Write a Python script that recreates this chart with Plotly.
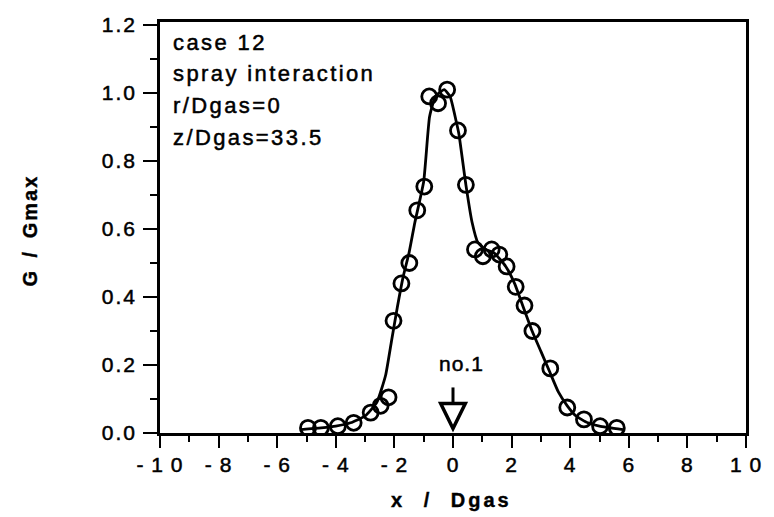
import plotly.graph_objects as go

# Measured profile: normalised mass flux vs. radial position
x_meas = [-4.95, -4.51, -3.93, -3.39, -2.81, -2.47, -2.20, -2.03, -1.76, -1.49,
          -1.22, -0.98, -0.81, -0.51, -0.20, 0.17, 0.44, 0.75, 1.02, 1.32,
          1.58, 1.83, 2.14, 2.44, 2.71, 3.32, 3.90, 4.47, 5.02, 5.59]
g_meas = [0.015, 0.015, 0.02, 0.03, 0.06, 0.08, 0.105, 0.33, 0.44, 0.50,
          0.655, 0.725, 0.99, 0.97, 1.01, 0.89, 0.73, 0.54, 0.52, 0.54,
          0.525, 0.49, 0.43, 0.375, 0.30, 0.19, 0.075, 0.04, 0.02, 0.015]

# Smoothed fit through the profile
x_fit = [-5.2, -4.5, -4.0, -3.5, -3.0, -2.6, -2.3, -2.1, -1.9, -1.7, -1.5, -1.3,
         -1.0, -0.8, -0.6, -0.3, -0.1, 0.1, 0.2, 0.44, 0.65, 0.85, 1.1, 1.4,
         1.8, 2.1, 2.4, 2.7, 3.0, 3.3, 3.6, 3.9, 4.2, 4.6, 5.0, 5.8]
g_fit = [0.01, 0.015, 0.02, 0.03, 0.05, 0.09, 0.17, 0.27, 0.37, 0.46, 0.53, 0.62,
         0.74, 0.93, 0.99, 1.01, 0.99, 0.92, 0.88, 0.73, 0.62, 0.56, 0.54, 0.53,
         0.49, 0.44, 0.37, 0.30, 0.24, 0.18, 0.12, 0.08, 0.05, 0.03, 0.02, 0.01]

x_ticks = [-10, -8, -6, -4, -2, 0, 2, 4, 6, 8, 10]
x_tick_text = ["- 1 0", "- 8", "- 6", "- 4", "- 2", "0", "2", "4", "6", "8", "1 0"]
y_ticks = [0.0, 0.2, 0.4, 0.6, 0.8, 1.0, 1.2]
y_tick_text = ["0.0", "0.2", "0.4", "0.6", "0.8", "1.0", "1.2"]

info_lines = ["case 12", "spray interaction", "r/Dgas=0", "z/Dgas=33.5"]

# Probe marker "no.1"
probe_x = 0.0
probe_label = "no.1"
probe_label_y = 0.205
probe_top = 0.134
probe_head_base = 0.087
probe_tip = 0.013
probe_head_half = 0.42

FONT = "Liberation Sans"


def spaced(text, px, word=0, stroke=0.5):
    return (f'<span style="letter-spacing:{px}px;word-spacing:{word}px;'
            f'stroke:black;stroke-width:{stroke}px">{text}</span>')


fig = go.Figure()

fig.add_trace(go.Scatter(
    x=x_fit, y=g_fit, mode="lines",
    line=dict(color="black", width=2.8, shape="spline", smoothing=0.45),
    hoverinfo="skip", showlegend=False,
))
fig.add_trace(go.Scatter(
    x=x_meas, y=g_meas, mode="markers",
    marker=dict(symbol="circle-open", size=15, color="black",
                line=dict(width=2.8, color="black")),
    showlegend=False,
))

axis_common = dict(
    showgrid=False, zeroline=False, showline=True, linecolor="black",
    linewidth=2.6, mirror=True, ticks="outside", tickcolor="black",
    tickwidth=2.4,
)

fig.update_xaxes(
    range=[-10, 10], tickvals=x_ticks,
    ticktext=[spaced(t, 1) for t in x_tick_text],
    ticklen=12, ticklabelstandoff=-1,
    tickfont=dict(family=FONT, size=21, color="black"),
    minor=dict(dtick=1, ticklen=6, tickwidth=2.4, tickcolor="black",
               ticks="outside"),
    **axis_common,
)
fig.update_yaxes(
    range=[0, 1.209], tickvals=y_ticks,
    ticktext=[spaced(t, 2) for t in y_tick_text],
    ticklen=14, ticklabelstandoff=2,
    tickfont=dict(family=FONT, size=21, color="black"),
    minor=dict(dtick=0.1, ticklen=7, tickwidth=2.4, tickcolor="black",
               ticks="outside"),
    **axis_common,
)

annotations = []
line_offsets = [20, 51, 83, 115]
for text, off in zip(info_lines, line_offsets):
    annotations.append(dict(
        xref="paper", yref="paper", x=0, y=1, xanchor="left", yanchor="middle",
        xshift=11, yshift=-off, showarrow=False,
        text=spaced(text, 2.4), font=dict(family=FONT, size=22, color="black"),
    ))

# axis titles
annotations.append(dict(
    xref="paper", yref="paper", x=0.5, y=0, xanchor="center", yanchor="middle",
    xshift=-2, yshift=-67, showarrow=False,
    text="<b>" + spaced("x / Dgas", 3, 10, 0.4) + "</b>",
    font=dict(family=FONT, size=20, color="black"),
))
annotations.append(dict(
    xref="paper", yref="paper", x=0, y=0.5, xanchor="center", yanchor="middle",
    xshift=-131, yshift=-3, showarrow=False, textangle=-90,
    text="<b>" + spaced("G / Gmax", 2, 4, 0.4) + "</b>",
    font=dict(family=FONT, size=20, color="black"),
))

# probe label
annotations.append(dict(
    xref="x", yref="y", x=probe_x, y=probe_label_y, xanchor="center",
    yanchor="middle", xshift=8, showarrow=False, text=spaced(probe_label, 1),
    font=dict(family=FONT, size=21, color="black"),
))

shapes = [
    dict(type="line", xref="x", yref="y", x0=probe_x, x1=probe_x,
         y0=probe_top, y1=probe_head_base, line=dict(color="black", width=3)),
    dict(type="path", xref="x", yref="y",
         path=(f"M {probe_x - probe_head_half},{probe_head_base} "
               f"L {probe_x + probe_head_half},{probe_head_base} "
               f"L {probe_x},{probe_tip} Z"),
         fillcolor="white", line=dict(color="black", width=3.5)),
]

fig.update_layout(
    width=774, height=517,
    margin=dict(l=160, r=20, t=22, b=84),
    paper_bgcolor="white", plot_bgcolor="white",
    annotations=annotations, shapes=shapes,
    showlegend=False,
)

fig.write_html("out.html")
